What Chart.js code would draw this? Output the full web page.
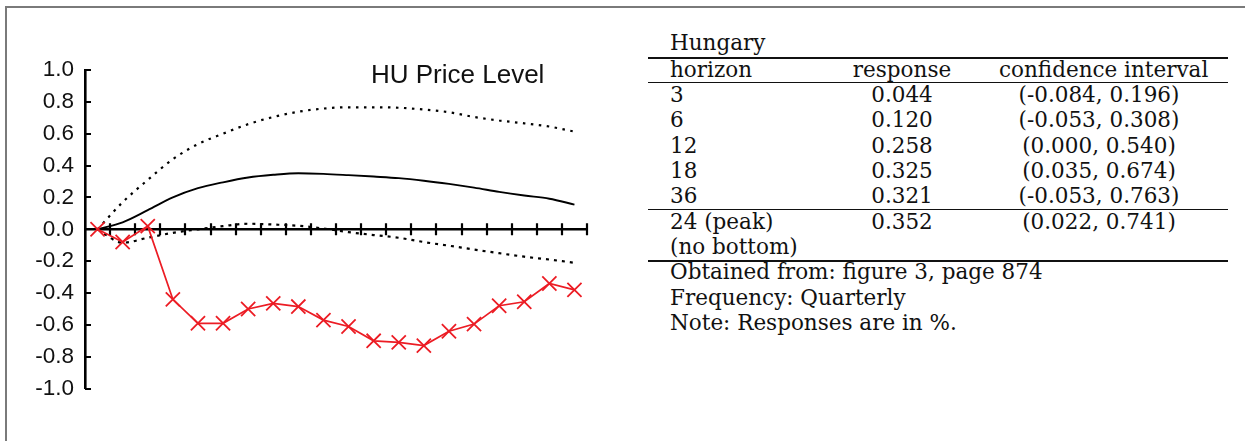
<!DOCTYPE html>
<html><head><meta charset="utf-8">
<script src="https://cdn.jsdelivr.net/npm/chart.js@4.4.0/dist/chart.umd.min.js"></script>
<style>
html,body{margin:0;padding:0;background:#fff;}
#wrap{position:relative;width:1245px;height:441px;overflow:hidden;background:#fff;}
#frame{position:absolute;left:5px;top:6px;width:1260px;height:460px;border-top:2px solid #7a7a7a;border-left:2px solid #7a7a7a;box-sizing:border-box;}
#chartBox{position:absolute;left:0;top:0;width:620px;height:441px;}
.t{position:absolute;font-family:"DejaVu Serif";font-size:21.5px;line-height:25.3px;height:25.3px;color:#111;white-space:nowrap;}
.l{left:670px}
.c2{left:802px;width:200px;text-align:center}
.c3{left:999px;width:200px;text-align:center}
.rule{position:absolute;left:648px;width:580px;background:#111;}
</style></head>
<body><div id="wrap"><div id="frame"></div><div id="chartBox"><canvas id="c" width="620" height="441"></canvas></div><div id="tbl"></div></div>
<script>
// ---- chart data (quarters after shock) ----
const quarters = ['0','1','2','3','4','5','6','7','8','9','10','11','12','13','14','15','16','17','18','19'];
const redResponse = [0.00,-0.08,0.02,-0.44,-0.59,-0.59,-0.50,-0.465,-0.485,-0.57,-0.61,-0.70,-0.71,-0.73,-0.64,-0.595,-0.48,-0.455,-0.34,-0.38];
const pointEstimate = [0.000,0.044,0.120,0.200,0.258,0.295,0.325,0.342,0.352,0.348,0.340,0.331,0.321,0.305,0.285,0.262,0.235,0.212,0.192,0.155];
const upperBand = [0.000,0.170,0.310,0.440,0.535,0.600,0.660,0.705,0.738,0.758,0.766,0.766,0.763,0.752,0.735,0.705,0.683,0.665,0.645,0.613];
const lowerBand = [0.000,-0.084,-0.053,-0.022,0.000,0.020,0.035,0.030,0.022,0.005,-0.018,-0.036,-0.053,-0.080,-0.103,-0.127,-0.150,-0.172,-0.190,-0.210];
const yTickValues = [-1.0,-0.8,-0.6,-0.4,-0.2,0.0,0.2,0.4,0.6,0.8,1.0];
const chartTitle = 'HU Price Level';

// ---- table data ----
const tableCountry = 'Hungary';
const tableHeader = ['horizon','response','confidence interval'];
const tableHorizons = ['3','6','12','18','36'];
const tableResponses = ['0.044','0.120','0.258','0.325','0.321'];
const tableIntervals = ['(-0.084, 0.196)','(-0.053, 0.308)','(0.000, 0.540)','(0.035, 0.674)','(-0.053, 0.763)'];
const peakRow = ['24 (peak)','0.352','(0.022, 0.741)'];
const bottomRow = ['(no bottom)','',''];
const notes = ['Obtained from: figure 3, page 874','Frequency: Quarterly','Note: Responses are in %.'];

// build table
(function(){
  const tbl = document.getElementById('tbl');
  const pitch = 25.3;
  function line(txt, cls, center){
    const d = document.createElement('div');
    d.className = 't ' + cls;
    d.style.top = (center - pitch/2) + 'px';
    d.textContent = txt;
    tbl.appendChild(d);
  }
  function rule(y, h){
    const r = document.createElement('div');
    r.className = 'rule';
    r.style.top = y + 'px'; r.style.height = h + 'px';
    tbl.appendChild(r);
  }
  line(tableCountry, 'l', 43);
  rule(56.5, 2);
  let y = 69.5;
  line(tableHeader[0], 'l', y); line(tableHeader[1], 'c2', y); line(tableHeader[2], 'c3', y);
  rule(81.8, 1.5);
  for (let i = 0; i < tableHorizons.length; i++) {
    y += pitch;
    line(tableHorizons[i], 'l', y); line(tableResponses[i], 'c2', y); line(tableIntervals[i], 'c3', y);
  }
  rule(208.5, 1.5);
  y += pitch;
  line(peakRow[0], 'l', y); line(peakRow[1], 'c2', y); line(peakRow[2], 'c3', y);
  y += pitch;
  line(bottomRow[0], 'l', y);
  rule(260.3, 1.5);
  for (const n of notes) { y += pitch; line(n, 'l', y); }
})();

const axisDecor = {
  id: 'axisDecor',
  beforeDatasetsDraw(chart) {
    const {ctx, chartArea} = chart;
    const xs = chart.scales.x, ys = chart.scales.y;
    ctx.save();
    ctx.strokeStyle = '#000';
    ctx.lineWidth = 2.2;
    const y0 = ys.getPixelForValue(0);
    ctx.beginPath();
    for (let k = 1; k <= quarters.length; k++) {
      const px = Math.round(xs.getPixelForValue(k - 0.5));
      ctx.moveTo(px, y0 - 6); ctx.lineTo(px, y0 + 6);
    }
    yTickValues.forEach(v => {
      const py = Math.round(ys.getPixelForValue(v));
      ctx.moveTo(chartArea.left, py); ctx.lineTo(chartArea.left + 6, py);
    });
    ctx.stroke();
    ctx.font = '26px "Liberation Sans"';
    ctx.fillStyle = '#111';
    ctx.textAlign = 'left';
    ctx.textBaseline = 'alphabetic';
    ctx.fillText(chartTitle, 371, 83);
    ctx.restore();
  }
};

new Chart(document.getElementById('c'), {
  type: 'line',
  data: {
    labels: quarters,
    datasets: [
      { data: redResponse, borderColor: '#ec1c24', backgroundColor: '#ec1c24', borderWidth: 1.7,
        pointStyle: 'crossRot', pointRadius: 10, pointBorderWidth: 1.8, pointBorderColor: '#ec1c24', tension: 0 },
      { data: pointEstimate, borderColor: '#000', borderWidth: 1.9, pointRadius: 0, cubicInterpolationMode: 'monotone' },
      { data: upperBand, borderColor: '#000', borderWidth: 2.2, borderDash: [2.5, 5.5], pointRadius: 0, cubicInterpolationMode: 'monotone' },
      { data: lowerBand, borderColor: '#000', borderWidth: 2.2, borderDash: [3, 5], pointRadius: 0, cubicInterpolationMode: 'monotone' }
    ]
  },
  options: {
    responsive: false,
    animation: false,
    devicePixelRatio: 1,
    layout: { padding: { top: 70, bottom: 52.4, left: 0, right: 33 } },
    plugins: { legend: { display: false }, tooltip: { enabled: false }, title: { display: false } },
    scales: {
      x: {
        type: 'category', offset: true, position: { y: 0 },
        grid: { display: false, drawTicks: false },
        ticks: { display: false },
        border: { display: true, color: '#000', width: 2.6 }
      },
      y: {
        min: -1, max: 1,
        afterFit(s) { s.width = 85; },
        afterBuildTicks(s) { s.ticks = yTickValues.map(v => ({ value: v })); },
        grid: { display: false, drawTicks: false },
        border: { display: true, color: '#000', width: 2.6 },
        ticks: {
          padding: 11, color: '#111',
          font: { family: '"Liberation Sans"', size: 22.5 },
          callback: v => (Math.abs(v) < 1e-9 ? 0 : v).toFixed(1)
        }
      }
    }
  },
  plugins: [axisDecor]
});
</script>
</body></html>
